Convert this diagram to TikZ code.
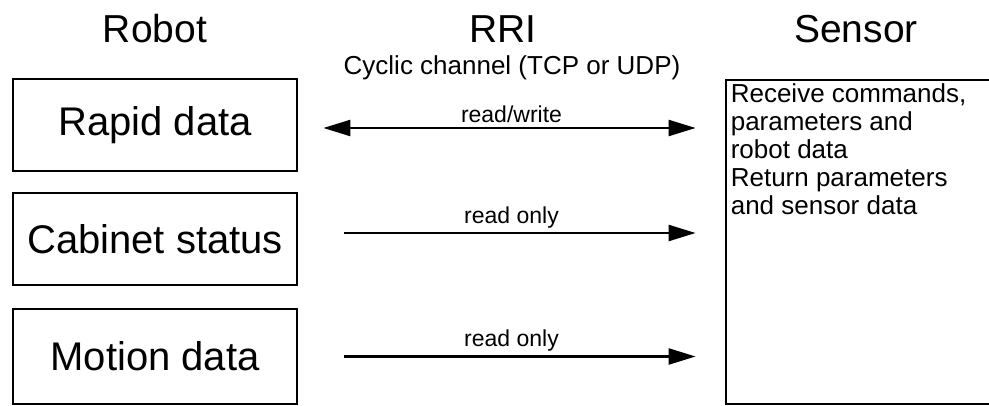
\documentclass[tikz,border=0pt]{standalone}
\usepackage{fontspec}
\setmainfont{Liberation Sans}
\usetikzlibrary{arrows.meta, positioning}
\tikzset{
  every picture/.style={x=1pt, y=-1pt},
  heading/.style={font=\fontsize{39}{47}\selectfont, anchor=base, inner sep=0pt},
  subheading/.style={font=\fontsize{26}{31}\selectfont, anchor=base, inner sep=0pt},
  databox/.style={draw, line width=2.8pt, minimum width=284pt, minimum height=92pt, font=\fontsize{40}{48}\selectfont, inner sep=0pt},
  sensorbox/.style={draw, line width=2.8pt, minimum width=270pt, minimum height=324pt},
  sensortext/.style={font=\fontsize{26}{28}\selectfont, align=left, inner sep=0pt},
  link/.style={-{Triangle[length=27pt, width=16pt]}, line width=2.4pt},
  biglink/.style={{Triangle[length=27pt, width=16pt]}-{Triangle[length=27pt, width=16pt]}, line width=2.4pt},
  tag/.style={font=\fontsize{23}{28}\selectfont, above=4pt, inner sep=0pt},
}
\begin{document}
\begin{tikzpicture}
  \useasboundingbox (0,0) rectangle (989,406);
  % column titles
  \node[heading] (robottitle) at (155,43) {Robot};
  \node[heading] (rrititle) at (503,43) {RRI};
  \node[heading] (sensortitle) at (856,43) {Sensor};
  \node[subheading] (channel) at (512,75) {Cyclic channel (TCP or UDP)};
  % robot side
  \node[databox] (rapid) at (155,125) {Rapid data};
  \node[databox] (cabinet) at (155,239) {Cabinet status};
  \node[databox, minimum height=95pt] (motion) at (155,356.5) {Motion data};
  % sensor side
  \node[sensorbox] (sensor) at (861,242) {};
  \node[sensortext, anchor=north west] (sensortxt) at ([xshift=6pt, yshift=-5pt]sensor.north west) {Receive commands,\\parameters and\\robot data\\Return parameters\\and sensor data};
  % channel
  \draw[biglink, shorten <=25pt, shorten >=29pt] ([yshift=-3pt]rapid.east) -- node[tag] {read/write} ([yshift=-3pt]rapid.east -| sensor.west);
  \draw[link, shorten <=46pt, shorten >=29pt] ([yshift=6pt]cabinet.east) -- node[tag] {read only} ([yshift=6pt]cabinet.east -| sensor.west);
  \draw[link, shorten <=46pt, shorten >=29pt] (motion.east) -- node[tag] {read only} (motion.east -| sensor.west);
\end{tikzpicture}
\end{document}
